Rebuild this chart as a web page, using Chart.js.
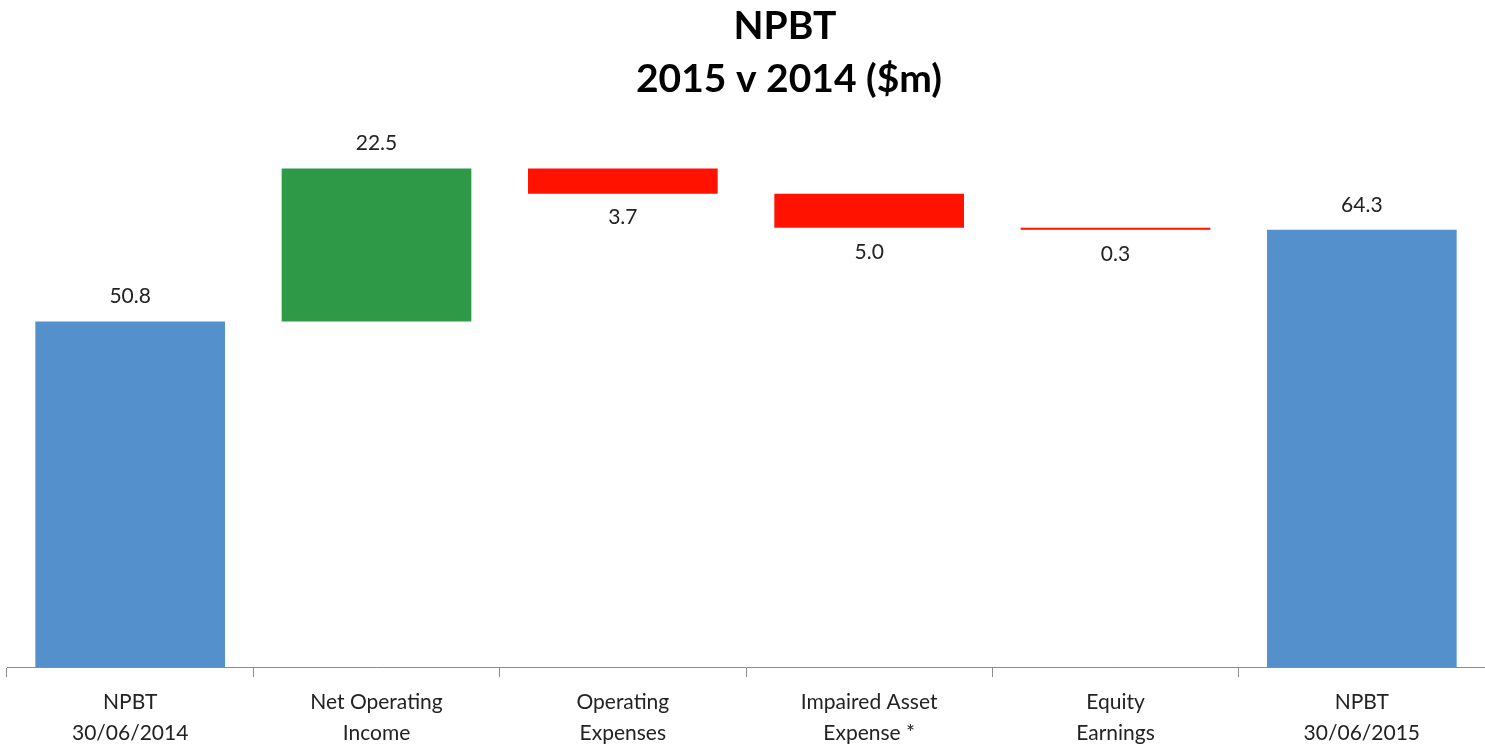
<!DOCTYPE html>
<html>
<head>
<meta charset="utf-8">
<script src="https://cdn.jsdelivr.net/npm/chart.js@4/dist/chart.umd.min.js"></script>
<style>
  html, body { margin: 0; padding: 0; background: #fff; }
  #wrap { width: 1485px; height: 750px; }
</style>
</head>
<body>
<div id="wrap"><canvas id="chart"></canvas></div>
<script>
// Waterfall steps ($m)
const categories = [
  ['NPBT', '30/06/2014'],
  ['Net Operating', 'Income'],
  ['Operating', 'Expenses'],
  ['Impaired Asset', 'Expense *'],
  ['Equity', 'Earnings'],
  ['NPBT', '30/06/2015']
];
const changes = [50.8, 22.5, -3.7, -5.0, -0.3, 64.3];
const kinds = ['total', 'step', 'step', 'step', 'step', 'total'];
const labelText = ['50.8', '22.5', '3.7', '5.0', '0.3', '64.3'];
const titleLines = ['NPBT', '2015 v 2014 ($m)'];

const BLUE = '#5390cc';
const GREEN = '#2e9a48';
const RED = '#ff1300';
const FONT = 'Lato, "Open Sans", sans-serif';

// build floating [low, high] ranges from the running total
let running = 0;
const ranges = changes.map((v, i) => {
  if (kinds[i] === 'total') {
    running = v;
    return [0, v];
  }
  const start = running;
  running += v;
  return [Math.min(start, running), Math.max(start, running)];
});
const colors = changes.map((v, i) => kinds[i] === 'total' ? BLUE : (v >= 0 ? GREEN : RED));

// title sits a little right of centre in the original
const titleText = {
  id: 'titleText',
  afterDraw(chart) {
    const ctx = chart.ctx;
    ctx.save();
    ctx.font = 'bold 39px ' + FONT;
    ctx.fillStyle = '#000';
    ctx.textAlign = 'center';
    ctx.textBaseline = 'middle';
    ctx.fillText(titleLines[0], 785, 26);
    ctx.fillText(titleLines[1], 789, 79);
    ctx.restore();
  }
};

// value labels: above rising bars, below falling ones
const valueLabels = {
  id: 'valueLabels',
  afterDatasetsDraw(chart) {
    const ctx = chart.ctx;
    const meta = chart.getDatasetMeta(0);
    ctx.save();
    ctx.font = '21px ' + FONT;
    ctx.fillStyle = '#222';
    ctx.textAlign = 'center';
    ctx.textBaseline = 'middle';
    meta.data.forEach((bar, i) => {
      const { x, y, base } = bar.getProps(['x', 'y', 'base'], true);
      const top = Math.min(y, base);
      const bottom = Math.max(y, base);
      if (changes[i] >= 0) {
        ctx.fillText(labelText[i], x, top - 25);
      } else {
        ctx.fillText(labelText[i], x, bottom + 24);
      }
    });
    ctx.restore();
  }
};

new Chart(document.getElementById('chart'), {
  type: 'bar',
  data: {
    labels: categories,
    datasets: [{
      data: ranges,
      backgroundColor: colors,
      borderWidth: 0,
      barPercentage: 0.77,
      categoryPercentage: 1
    }]
  },
  options: {
    responsive: true,
    maintainAspectRatio: false,
    animation: false,
    layout: { padding: { left: 7, right: 0, top: 123, bottom: -8 } },
    plugins: {
      legend: { display: false },
      tooltip: { enabled: false },
      title: { display: false }
    },
    scales: {
      x: {
        grid: {
          offset: true,
          drawOnChartArea: false,
          drawTicks: true,
          tickLength: 10,
          color: '#8c8c8c'
        },
        border: { color: '#8c8c8c', width: 1 },
        ticks: {
          color: '#222',
          padding: 10,
          maxRotation: 0,
          autoSkip: false,
          font: { family: FONT, size: 21, lineHeight: 1.45 }
        }
      },
      y: {
        display: false,
        min: 0,
        max: 80
      }
    }
  },
  plugins: [valueLabels, titleText]
});
</script>
</body>
</html>
